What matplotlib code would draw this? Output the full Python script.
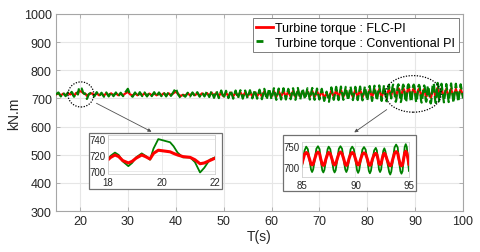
import numpy as np
import matplotlib
matplotlib.use("Agg")
import matplotlib.pyplot as plt
from matplotlib.patches import Ellipse, Rectangle
from matplotlib.lines import Line2D

plt.rcParams['font.family'] = ['Liberation Sans', 'DejaVu Sans']

# ---- data (kN.m) ----
# coarse part before the first zoom window (15 - 17.5 s, step 0.5 s)
t_a = [15.0, 15.5, 16.0, 16.5, 17.0, 17.5]
green_a = [714, 721, 707, 720, 708, 721]
red_a = [714, 718, 710, 717, 711, 718]

# detail 18 - 22 s (first inset)
t_z1 = [18.0, 18.1, 18.26, 18.4, 18.55, 18.76, 18.9, 19.05, 19.26, 19.4, 19.57, 19.7,
        19.88, 20.1, 20.32, 20.45, 20.6, 20.8, 21.07, 21.25, 21.44, 21.6, 21.8, 22.0]
green_z1 = [715, 719, 723, 720, 712, 706, 710, 717, 722, 719, 714, 728,
            740, 738, 736, 731, 723, 717, 717, 711, 698, 704, 714, 717]
red_z1 = [714, 717, 720, 718, 713, 710, 712, 716, 720, 718, 715, 722,
          726, 725, 724, 722, 720, 718, 717, 714, 709, 710, 713, 716]

# coarse part 22.5 - 84.5 s (step 0.5 s)
t_b = list(np.arange(22.5, 84.51, 0.5))
green_b = [721, 707, 722, 708, 720, 706, 721, 707, 722, 708,
           721, 707, 720, 708, 722, 734, 712, 706, 721, 707,
           722, 708, 721, 707, 720, 708, 722, 707, 721, 708,
           721, 707, 722, 709, 722, 736, 714, 702, 712, 706,
           720, 707, 721, 708, 722, 706, 721, 707, 724, 705,
           726, 702, 727, 701, 728, 700, 727, 701, 729, 699,
           728, 700, 729, 699, 728, 700, 729, 700, 730, 699,
           731, 697, 734, 696, 735, 697, 736, 695, 735, 696,
           736, 696, 734, 697, 736, 695, 737, 696, 735, 697,
           736, 696, 737, 695, 735, 696, 734, 691, 724, 688,
           739, 695, 741, 694, 742, 695, 741, 693, 742, 694,
           741, 694, 742, 693, 743, 692, 744, 691, 745, 692,
           746, 691, 747, 690, 748]
red_b = [718, 711, 718, 711, 717, 710, 718, 711, 718, 711,
         718, 711, 717, 711, 718, 723, 714, 710, 718, 711,
         718, 711, 718, 710, 717, 711, 718, 711, 718, 711,
         718, 711, 718, 712, 718, 724, 716, 708, 713, 710,
         718, 711, 718, 711, 718, 710, 718, 711, 719, 710,
         720, 708, 720, 708, 721, 707, 720, 708, 721, 707,
         721, 708, 722, 707, 721, 708, 722, 707, 722, 707,
         723, 706, 725, 705, 726, 706, 726, 705, 726, 706,
         726, 706, 725, 706, 726, 705, 727, 706, 726, 706,
         726, 706, 727, 705, 726, 706, 725, 703, 717, 702,
         728, 705, 729, 704, 730, 705, 729, 704, 730, 704,
         730, 704, 731, 704, 731, 703, 732, 703, 733, 703,
         733, 703, 734, 703, 734]

# detail 85 - 95 s (second inset)
t_z2 = [85.0, 85.25, 85.4, 85.55, 85.7, 85.85, 85.95, 86.05, 86.2, 86.35, 86.5, 86.65,
        86.75, 86.9, 87.0, 87.1, 87.25, 87.4, 87.5, 87.65, 87.8, 87.95, 88.05, 88.15,
        88.3, 88.45, 88.6, 88.75, 88.9, 89.05, 89.15, 89.25, 89.4, 89.55, 89.7, 89.85,
        90.0, 90.15, 90.25, 90.35, 90.5, 90.65, 90.8, 90.95, 91.1, 91.25, 91.35, 91.45,
        91.6, 91.75, 91.9, 92.0, 92.1, 92.2, 92.3, 92.4, 92.5, 92.6, 92.7, 92.8,
        92.95, 93.15, 93.25, 93.35, 93.5, 93.65, 93.8, 93.95, 94.05, 94.2, 94.3, 94.4,
        94.5, 94.6, 94.7, 94.8, 94.9, 95.0]
green_z2 = [700, 740, 749, 743, 718, 694, 688, 694, 718, 744, 750, 743,
            718, 692, 687, 693, 718, 743, 749, 743, 718, 693, 687, 692,
            718, 744, 750, 744, 718, 694, 688, 694, 718, 743, 749, 743,
            718, 692, 686, 692, 718, 742, 748, 742, 718, 691, 685, 691,
            718, 740, 746, 740, 718, 694, 688, 694, 718, 739, 745, 738,
            715, 688, 682, 689, 718, 747, 754, 747, 718, 690, 684, 690,
            718, 748, 755, 748, 720, 690]
red_z2 = [708, 731, 735, 732, 720, 707, 705, 707, 720, 732, 736, 732,
          720, 706, 704, 706, 720, 731, 735, 732, 720, 707, 705, 707,
          720, 732, 736, 732, 720, 706, 704, 706, 720, 731, 735, 732,
          720, 707, 705, 707, 720, 731, 734, 731, 720, 706, 704, 706,
          720, 730, 733, 730, 720, 708, 706, 708, 720, 730, 733, 730,
          718, 705, 703, 705, 720, 733, 737, 733, 720, 705, 703, 705,
          720, 734, 738, 734, 721, 706]

# coarse tail 95.5 - 100 s
t_c = [95.5, 96.0, 96.5, 97.0, 97.5, 98.0, 98.5, 99.0, 99.5, 100.0]
green_c = [752, 686, 751, 687, 753, 685, 752, 688, 750, 700]
red_c = [735, 704, 734, 705, 735, 704, 734, 705, 733, 710]

t = np.array(t_a + t_z1 + t_b + t_z2 + t_c)
green = np.array(green_a + green_z1 + green_b + green_z2 + green_c)
red = np.array(red_a + red_z1 + red_b + red_z2 + red_c)

RED = '#ff0000'
GREEN = '#008000'
FRAME = '#a6a6a6'
TXT = '#262626'

fig = plt.figure(figsize=(4.8, 2.53), dpi=100)
ax = fig.add_axes([0.1167, 0.162, 0.848, 0.779])

ax.plot(t, red, color=RED, lw=1.6, zorder=3)
ax.plot(t, green, color=GREEN, lw=1.6, ls=(0, (4, 1.5)), zorder=4)

ax.set_xlim(15, 100)
ax.set_ylim(300, 1000)
ax.set_xticks([20, 30, 40, 50, 60, 70, 80, 90, 100])
ax.set_yticks([300, 400, 500, 600, 700, 800, 900, 1000])
ax.grid(True, color='#e6e6e6', lw=0.8)
ax.set_axisbelow(True)
ax.tick_params(direction='in', top=True, right=True, length=3, width=0.6,
               color=FRAME, labelsize=9, labelcolor=TXT, pad=3)
for s in ax.spines.values():
    s.set_color(FRAME)
    s.set_linewidth(0.8)
ax.set_xlabel('T(s)', fontsize=10, color=TXT, labelpad=1)
ax.set_ylabel('kN.m', fontsize=10, color=TXT, labelpad=2)

h_red = Line2D([], [], color=RED, lw=2)
h_green = Line2D([], [], color=GREEN, lw=2, ls=(0, (2.5, 10)))
leg = ax.legend([h_red, h_green],
                ['Turbine torque : FLC-PI', 'Turbine torque : Conventional PI'],
                loc='upper right', fontsize=9,
                handlelength=1.3, handletextpad=0.2, borderpad=0.3,
                labelspacing=0.2, borderaxespad=0.35, fancybox=False,
                framealpha=1, edgecolor='#7f7f7f')
leg.get_frame().set_linewidth(0.7)

# dotted circles marking the zoomed regions
ax.add_patch(Ellipse((20.2, 714), 5.4, 89, fill=False, ls=(0, (1, 1.2)),
                     lw=0.9, color='black', zorder=6))
ax.add_patch(Ellipse((89.6, 716), 11.7, 130, fill=False, ls=(0, (1, 1.2)),
                     lw=0.9, color='black', zorder=6))

# inset frames
fig.patches.append(Rectangle((0.1854, 0.249), 0.277, 0.221, transform=fig.transFigure,
                             facecolor='white', edgecolor='#707070', lw=0.9, zorder=5))
fig.patches.append(Rectangle((0.5896, 0.241), 0.277, 0.221, transform=fig.transFigure,
                             facecolor='white', edgecolor='#707070', lw=0.9, zorder=5))

# arrows from circles to insets
ax.annotate('', xy=(154 / 480, 1 - 134 / 253), xycoords='figure fraction',
            xytext=(94 / 480, 1 - 103 / 253), textcoords='figure fraction',
            arrowprops=dict(arrowstyle='-|>', color='#505050', lw=0.6,
                            mutation_scale=5), zorder=7)
ax.annotate('', xy=(352 / 480, 1 - 135 / 253), xycoords='figure fraction',
            xytext=(389 / 480, 1 - 109 / 253), textcoords='figure fraction',
            arrowprops=dict(arrowstyle='-|>', color='#505050', lw=0.6,
                            mutation_scale=5), zorder=7)


def inset(rect, xlim, ylim, xt, yt):
    a = fig.add_axes(rect, zorder=10)
    a.plot(t, green, color=GREEN, lw=1.3)
    a.plot(t, red, color=RED, lw=2.2)
    a.set_xlim(*xlim)
    a.set_ylim(*ylim)
    a.set_xticks(xt)
    a.set_yticks(yt)
    a.grid(True, color='#e6e6e6', lw=0.6)
    a.set_axisbelow(True)
    a.tick_params(direction='in', length=0, labelsize=7, labelcolor=TXT, pad=2)
    for s in a.spines.values():
        s.set_color('#d0d0d0')
        s.set_linewidth(0.6)
    return a


inset([0.225, 0.308, 0.223, 0.154], (18, 22), (696, 745), [18, 20, 22], [700, 720, 740])
inset([0.629, 0.2964, 0.223, 0.138], (85, 95), (676, 760), [85, 90, 95], [700, 750])

fig.savefig('out.png', dpi=100)
